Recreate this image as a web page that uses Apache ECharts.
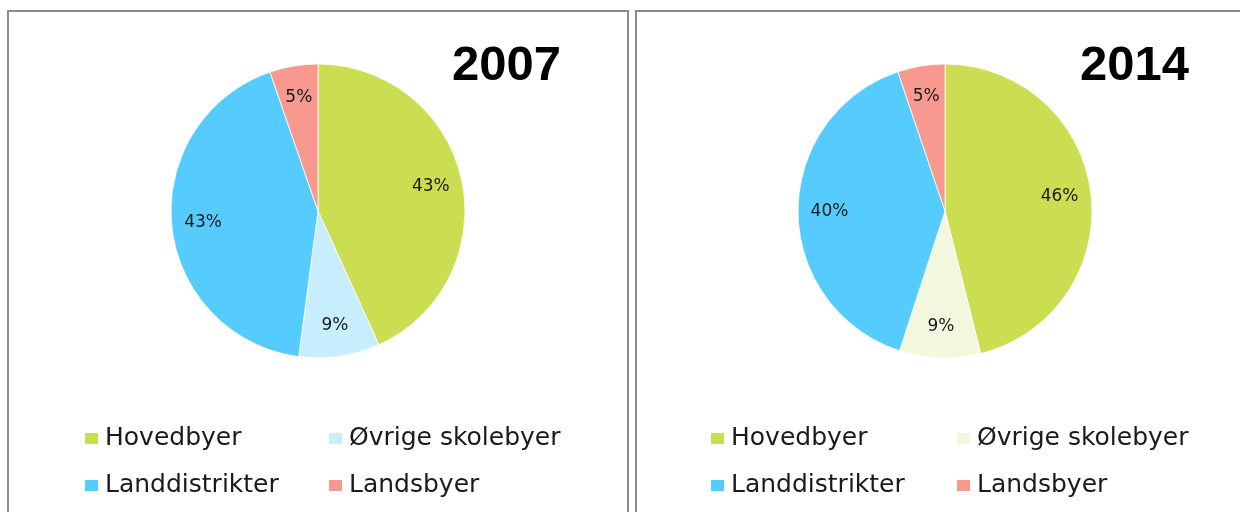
<!DOCTYPE html>
<html>
<head>
<meta charset="utf-8">
<script src="https://cdn.jsdelivr.net/npm/echarts@6/dist/echarts.min.js"></script>
<style>
html,body{margin:0;padding:0;background:#fff;overflow:hidden;}
#chart{width:1240px;height:512px;}
</style>
</head>
<body>
<div id="chart"></div>
<script>
// ---- data ----
const categories = ['Hovedbyer', 'Øvrige skolebyer', 'Landdistrikter', 'Landsbyer'];
const years = ['2007', '2014'];
const values2007 = [43.2, 8.9, 42.6, 5.3];
const values2014 = [46.1, 8.9, 39.8, 5.2];

// ---- styles ----
const colors2007 = ['#CBDD51', '#C8EDFD', '#56CBFE', '#F8998F'];
const colors2014 = ['#CBDD51', '#F2F7DE', '#56CBFE', '#F8998F'];
const FONT = 'DejaVu Sans';

const panels = [
  { year: years[0], values: values2007, colors: colors2007, cx: 318, titleX: 561, legX: [83, 327], rectX: 8, rectW: 620 },
  { year: years[1], values: values2014, colors: colors2014, cx: 945, titleX: 1189, legX: [709, 955], rectX: 636, rectW: 700 }
];

const series = [];
const legends = [];
const graphics = [];

panels.forEach((p, pi) => {
  const data = categories.map((c, i) => ({ name: c, value: p.values[i], itemStyle: { color: p.colors[i] } }));
  series.push({
    type: 'pie',
    name: p.year,
    center: [p.cx, 211],
    radius: [0, 147],
    startAngle: 90,
    clockwise: true,
    label: { show: false },
    labelLine: { show: false },
    itemStyle: { borderColor: '#ffffff', borderWidth: 0.8 },
    emphasis: { disabled: true },
    silent: true,
    data: data
  });
  // label carrier (transparent ring) so the percentages sit at Excel-like distance
  series.push({
    type: 'pie',
    name: p.year + ' labels',
    center: [p.cx, 211],
    radius: [78, 147],
    startAngle: 90,
    clockwise: true,
    silent: true,
    emphasis: { disabled: true },
    itemStyle: { color: 'rgba(0,0,0,0)', borderWidth: 0 },
    label: {
      show: true,
      position: 'inside',
      fontFamily: FONT,
      fontSize: 17,
      color: '#1a1a1a',
      formatter: (q) => Math.round(q.percent) + '%'
    },
    labelLine: { show: false },
    data: categories.map((c, i) => ({ name: c, value: p.values[i] }))
  });
  // two legend columns
  [[0, 2], [1, 3]].forEach((idxs, col) => {
    legends.push({
      orient: 'vertical',
      left: p.legX[col],
      top: 426,
      padding: 0,
      itemWidth: 15,
      itemHeight: 13,
      itemGap: 22,
      icon: 'rect',
      selectedMode: false,
      textStyle: { fontFamily: FONT, fontSize: 25, color: '#1a1a1a', padding: [0, 0, 0, 1] },
      data: idxs.map(i => ({ name: categories[i], itemStyle: { color: p.colors[i] } }))
    });
  });
  graphics.push({
    type: 'rect',
    shape: { x: p.rectX, y: 11, width: p.rectW, height: 520 },
    style: { fill: null, stroke: '#8c8c8c', lineWidth: 2 },
    silent: true
  });
  graphics.push({
    type: 'text',
    style: {
      text: p.year,
      x: p.titleX,
      y: 66,
      textAlign: 'right',
      textVerticalAlign: 'middle',
      fontFamily: 'Liberation Sans',
      fontWeight: 'bold',
      fontSize: 49,
      fill: '#000'
    },
    silent: true
  });
});

const chart = echarts.init(document.getElementById('chart'), null, { renderer: 'canvas' });
chart.setOption({
  animation: false,
  backgroundColor: '#ffffff',
  legend: legends,
  graphic: graphics,
  series: series
});
</script>
</body>
</html>
